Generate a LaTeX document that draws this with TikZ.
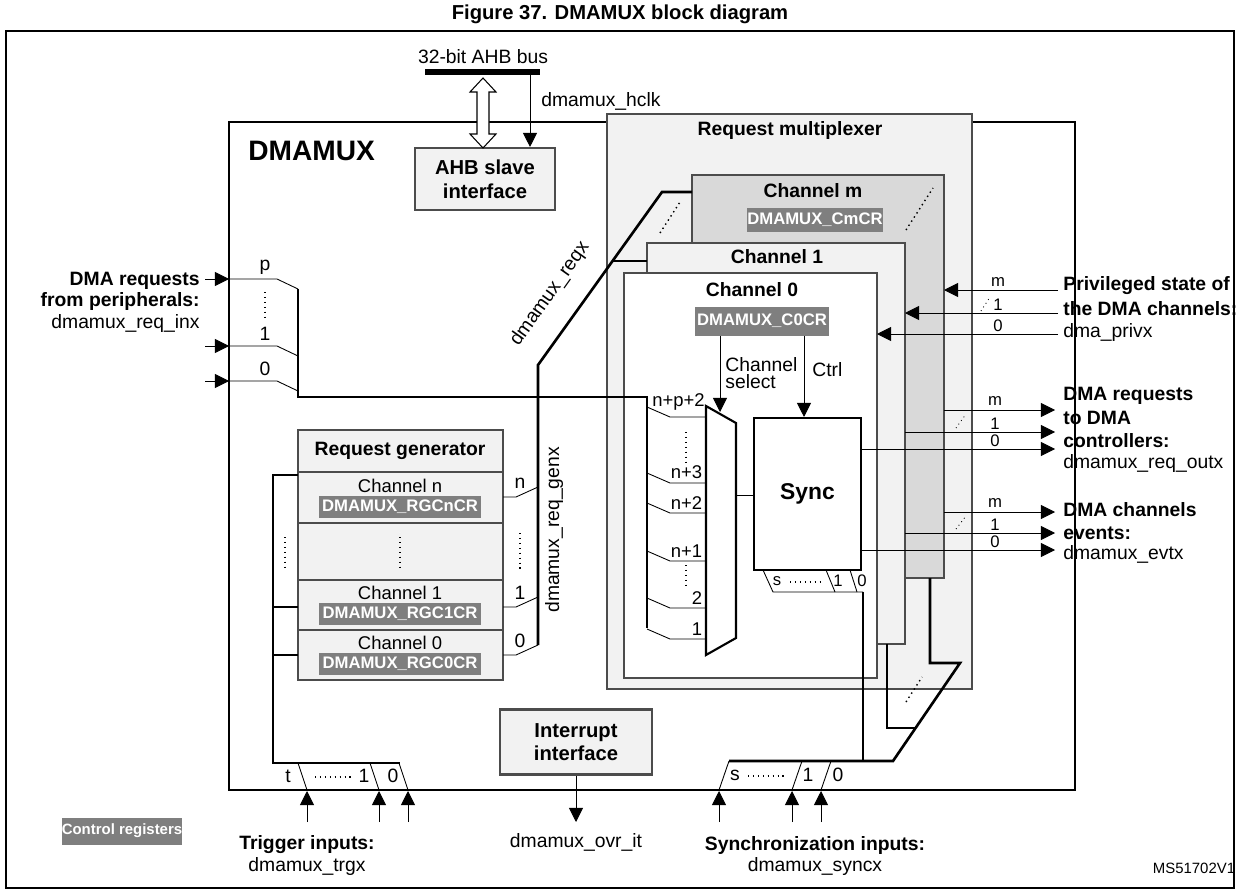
\documentclass[tikz,border=0pt]{standalone}
\usepackage{fontspec}
\setmainfont{Liberation Sans}
\usetikzlibrary{arrows.meta,positioning}
\definecolor{regbox}{HTML}{7F7F7F}
\definecolor{lightbox}{HTML}{F2F2F2}
\definecolor{midbox}{HTML}{D9D9D9}
\begin{document}
\begin{tikzpicture}[
        x=0.02cm, y=-0.02cm,
        txt/.style = {inner sep=0pt, font=\fontsize{11}{13}\selectfont},
        btxt/.style = {txt, font=\fontsize{11}{13}\selectfont\bfseries},
        stxt/.style = {txt, font=\fontsize{9.5}{11}\selectfont},
        reg/.style = {fill=regbox, text=white, inner sep=0pt, minimum height=0.5cm,
                      font=\fontsize{9.5}{10}\selectfont\bfseries},
        blk/.style = {draw=black!70, line width=1.2pt},
        wire/.style = {line width=0.5pt},
        bus/.style = {line width=1.5pt},
        arr/.style = {wire, -{Triangle[length=8pt,width=8pt]}},
        dots/.style = {dotted, line width=0.8pt}
    ]
\useasboundingbox (0,0) rectangle (1240,892);
\node[font=\fontsize{11.5}{13}\selectfont\bfseries] (title) at (620,14) {Figure 37. DMAMUX block diagram};
\draw[line width=0.8pt] (6,31) rectangle (1234,888);
% main block
\draw[line width=1.4pt] (229,122) rectangle (1075,790);
\node[font=\fontsize{16}{18}\selectfont\bfseries,anchor=west,inner sep=0pt] (dmamux) at (248,151) {DMAMUX};
% AHB side
\draw[line width=3pt] (425,72) -- (540,72);
\node[txt] (ahb) at (483,57) {32-bit AHB bus};
\node[blk, fill=lightbox, minimum width=2.8cm, minimum height=1.24cm, align=center,
      font=\fontsize{11.5}{13.5}\selectfont\bfseries] (slave) at (485,179) {AHB slave\\interface};
\draw[fill=white, line width=0.6pt] (483,78) -- (496,92) -- (489,92) -- (489,134) -- (496,134)
      -- (483,148) -- (470,134) -- (477,134) -- (477,92) -- (470,92) -- cycle;
\coordinate (hclk) at (530,72);
\draw[arr] (hclk) -- (slave.north -| hclk);
\node[txt,anchor=west] (hclkl) at (541,101) {dmamux\_hclk};
% request multiplexer
\draw[blk, fill=lightbox] (607,114) rectangle (972,689);
\node[btxt] (rmux) at (790,131) {Request multiplexer};
\draw[blk, fill=midbox] (692,175) rectangle (944,578);
\node[btxt] (chm) at (813,191) {Channel m};
\node[reg, minimum width=2.7cm] (cmcr) at (815,220) {DMAMUX\_CmCR};
\draw[blk, fill=lightbox] (647,243) rectangle (905,644);
\node[btxt] (ch1) at (777,257) {Channel 1};
\draw[blk, fill=white] (624,273) rectangle (877,678);
\node[btxt] (ch0) at (752,290) {Channel 0};
\node[reg, minimum width=2.7cm, minimum height=0.58cm] (c0cr) at (762,321) {DMAMUX\_C0CR};
\draw[dots] (660,233) -- (680,202);
\draw[dots] (906,230) -- (933,188);
% mux and sync
\draw[line width=1.2pt] (706,406) coordinate (muxa) -- (736,423) -- (736,638) -- (706,655) -- cycle;
\node[draw, line width=1.2pt, minimum width=2.14cm, minimum height=3.04cm,
      font=\fontsize{13}{15}\selectfont\bfseries] (sync) at (807.5,494) {Sync};
\draw[arr] (c0cr.south -| 720,0) -- (720,412);
\draw[arr] (c0cr.south -| 804,0) -- (sync.north -| 804,0);
\node[txt,anchor=north west,align=left,font=\fontsize{11}{9.5}\selectfont] (chsel) at (725,357) {Channel\\select};
\node[txt,anchor=west] (ctrl) at (812,370) {Ctrl};
\draw[wire] (736,495) -- (sync.west |- 0,495);
\draw[bus] (298,289) -- (298,397) -- (647,397) -- (647,628);
\foreach \y/\l in {473/n+3,503/n+2,551/n+1,598/2,629/1}
    \draw[wire] (647,\y) -- (670,\y+10) -- (706,\y+10) node[txt,font=\fontsize{10.5}{12}\selectfont,above left=2pt and 2pt] {\l};
\draw[wire] (647,407) -- (670,417) -- (706,417);
\node[txt,font=\fontsize{10.5}{12}\selectfont,anchor=south west] (npp) at (652,411) {n+p+2};
\draw[dots] (686,432) -- (686,465);
\draw[dots] (686,565) -- (686,588);
% sync select lines
\draw[wire] (763,570) -- (773,592) -- (863,592);
\draw[wire] (826,570) -- (835,592) (850,570) -- (857,592);
\node[stxt] (ss) at (777,581) {s};
\draw[dots] (790,582) -- (820,582);
\node[stxt] (s1) at (838,581) {1};
\node[stxt] (s0) at (862,581) {0};
\draw[bus] (863,592) -- (863,761);
\draw[bus] (729,761) -- (893,761) -- (960,663) -- (930,663) -- (930,578);
\draw[bus] (887,644) -- (887,728) -- (916,728);
\draw[dots] (906,702) -- (922,677);
% sync inputs
\foreach \x in {719,792,821} {
    \draw[wire] (\x,790) -- (\x+10,761);
    \draw[arr] (\x,822) -- (\x,791);
}
\node[txt] (is) at (735,775) {s};
\draw[dots] (748,776) -- (785,776);
\node[txt] (i1) at (808,775) {1};
\node[txt] (i0) at (838,775) {0};
\node[btxt] (syncl) at (815,845) {Synchronization inputs:};
\node[txt] (syncx) at (815,866) {dmamux\_syncx};
% peripheral requests
\foreach \y/\l in {279/p,346/1,381/0} {
    \draw[arr] (205,\y) -- (229,\y);
    \draw[wire] (229,\y) -- (277,\y) -- (298,\y+10);
    \node[txt] at (265,\y-12) {\l};
}
\draw[dots] (265,292) -- (265,318);
\node[btxt,anchor=east] (dreq) at (200,281) {DMA requests};
\node[btxt,anchor=east] (dreq2) at (200,302) {from peripherals:};
\node[txt,anchor=east] (reqin) at (200,324) {dmamux\_req\_inx};
% request generator
\draw[draw=black!70, line width=1.2pt, fill=lightbox] (298,430) rectangle (503,680);
\draw[black!70, line width=0.8pt] (298,472) -- (503,472) (298,523) -- (503,523)
      (298,580) -- (503,580) (298,630) -- (503,630);
\node[font=\fontsize{11}{13}\selectfont\bfseries] (rgen) at (400,451) {Request generator};
\node[txt,font=\fontsize{10.5}{12}\selectfont] (rgn) at (400,486) {Channel n};
\node[reg, minimum width=3.26cm, minimum height=0.44cm] (rgcn) at (400,507) {DMAMUX\_RGCnCR};
\draw[dots] (400,537) -- (400,568);
\node[txt,font=\fontsize{10.5}{12}\selectfont] (rg1) at (400,593) {Channel 1};
\node[reg, minimum width=3.26cm, minimum height=0.44cm] (rgc1) at (400,614) {DMAMUX\_RGC1CR};
\node[txt,font=\fontsize{10.5}{12}\selectfont] (rg0) at (400,643) {Channel 0};
\node[reg, minimum width=3.26cm, minimum height=0.44cm] (rgc0) at (400,664) {DMAMUX\_RGC0CR};
\foreach \y/\l in {497/n,607/1,655/0} {
    \draw[wire] (503,\y) -- (516,\y) -- (538,\y-10);
    \node[txt] at (520,\y-14) {\l};
}
\draw[dots] (520,533) -- (520,570);
\draw[bus] (538,645) -- (538,365) -- (662,192) -- (692,192);
\draw[bus] (613,261) -- (647,261);
\node[txt,rotate=54.6] (reqx) at (550,294) {dmamux\_reqx};
\node[txt,rotate=90] (reqgen) at (554,530) {dmamux\_req\_genx};
% trigger inputs
\draw[bus] (298,475) -- (273,475) -- (273,763) -- (400,763);
\draw[bus] (273,607) -- (298,607) (273,655) -- (298,655);
\draw[dots] (285,537) -- (285,567);
\foreach \x in {307,379,408} {
    \draw[wire] (\x-9,763) -- (\x,790);
    \draw[arr] (\x,822) -- (\x,791);
}
\node[txt] (tt) at (288,776) {t};
\draw[dots] (315,777) -- (353,777);
\node[txt] (t1) at (364,776) {1};
\node[txt] (t0) at (393,776) {0};
\node[btxt] (trgl) at (307,845) {Trigger inputs:};
\node[txt] (trgx) at (307,866) {dmamux\_trgx};
% interrupt interface
\node[blk, fill=lightbox, minimum width=3.04cm, minimum height=1.3cm, align=center,
      font=\fontsize{11.5}{13.5}\selectfont\bfseries] (irq) at (576,742) {Interrupt\\interface};
\coordinate (ovr) at (576,822);
\draw[arr] (irq.south) -- (ovr);
\node[txt] (ovrl) at (576,842) {dmamux\_ovr\_it};
% privileged state
\foreach \y/\x/\l in {290/944/m,313/905/1,334/877/0} {
    \draw[arr] (1058,\y) -- (\x,\y);
    \node[stxt] at (998,\y-8) {\l};
}
\draw[dots, line width=0.5pt] (981,311) -- (990,297);
\node[btxt,anchor=west] (priv) at (1063,286) {Privileged state of};
\node[btxt,anchor=west] (priv2) at (1063,309) {the DMA channels:};
\node[txt,anchor=west] (privx) at (1063,332) {dma\_privx};
% outputs
\foreach \ya/\yb/\yc in {410/432/449,512/533/550} {
    \draw[arr] (944,\ya) -- (1055,\ya);
    \draw[arr] (905,\yb) -- (1055,\yb);
    \draw[arr] (861,\yc) -- (1055,\yc);
    \node[stxt] at (995,\ya-9) {m};
    \node[stxt] at (995,\yb-8) {1};
    \node[stxt] at (995,\yc-8) {0};
    \draw[dots, line width=0.5pt] (956,\yb-4) -- (966,\ya+4);
}
\node[btxt,anchor=west] (outl) at (1063,396) {DMA requests};
\node[btxt,anchor=west] (outl2) at (1063,418) {to DMA};
\node[btxt,anchor=west] (outl3) at (1063,441) {controllers:};
\node[txt,anchor=west] (outx) at (1063,463) {dmamux\_req\_outx};
\node[btxt,anchor=west] (evl) at (1063,510) {DMA channels};
\node[btxt,anchor=west] (evl2) at (1063,533) {events:};
\node[txt,anchor=west] (evx) at (1063,554) {dmamux\_evtx};
% legend
\node[reg, minimum width=2.3cm, minimum height=0.54cm, font=\fontsize{8.5}{9}\selectfont\bfseries] (ctrlreg) at (122,831) {Control registers};
\node[txt,font=\fontsize{8.5}{9}\selectfont] (ms) at (1194,868) {MS51702V1};
\end{tikzpicture}
\end{document}
